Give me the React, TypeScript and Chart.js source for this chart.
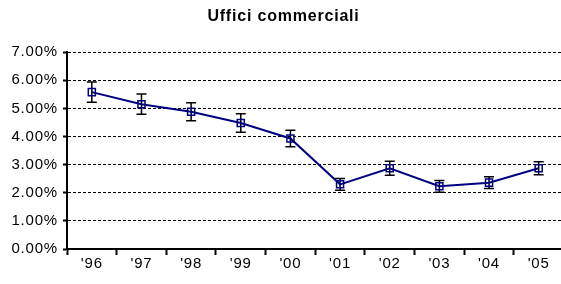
import React, { useEffect, useRef } from "react";
import { Chart, registerables } from "chart.js";

Chart.register(...registerables);

const title = "Uffici commerciali";
const years = ["'96", "'97", "'98", "'99", "'00", "'01", "'02", "'03", "'04", "'05"];
const values = [5.58, 5.15, 4.88, 4.48, 3.93, 2.3, 2.87, 2.23, 2.36, 2.87];
const errors = [0.36, 0.36, 0.32, 0.33, 0.29, 0.21, 0.25, 0.21, 0.21, 0.23];
const yMin = 0;
const yMax = 7;
const yStep = 1;

const FONT = "'Liberation Sans', Arial, sans-serif";
const SPACING = "0.8px";

const spacingPlugin = {
  id: "letterSpacing",
  beforeUpdate(chart: any) {
    chart.ctx.letterSpacing = SPACING;
  },
  beforeDraw(chart: any) {
    chart.ctx.letterSpacing = SPACING;
  },
};

const errorBarPlugin = {
  id: "errorBars",
  beforeDatasetsDraw(chart: any) {
    const { ctx, scales } = chart;
    const x = scales.x;
    const y = scales.y;
    ctx.save();
    ctx.strokeStyle = "#000";
    ctx.lineWidth = 1.5;
    values.forEach((v, i) => {
      const px = x.getPixelForValue(i);
      const top = y.getPixelForValue(v + errors[i]);
      const bot = y.getPixelForValue(v - errors[i]);
      ctx.beginPath();
      ctx.moveTo(px, top);
      ctx.lineTo(px, bot);
      ctx.moveTo(px - 5, top);
      ctx.lineTo(px + 5, top);
      ctx.moveTo(px - 5, bot);
      ctx.lineTo(px + 5, bot);
      ctx.stroke();
    });
    ctx.restore();
  },
};

export default function App() {
  const ref = useRef<HTMLCanvasElement>(null);
  useEffect(() => {
    if (!ref.current) return;
    const chart = new Chart(ref.current, {
      type: "line",
      data: {
        labels: years,
        datasets: [
          {
            data: values,
            borderColor: "#000080",
            borderWidth: 2,
            pointStyle: "rect",
            pointRadius: 5,
            pointBorderWidth: 1.5,
            pointBorderColor: "#000080",
            pointBackgroundColor: "rgba(0,0,0,0)",
            tension: 0,
          },
        ],
      },
      options: {
        animation: false,
        responsive: false,
        layout: { padding: { left: 0, right: 3, top: 0, bottom: 11 } },
        plugins: {
          legend: { display: false },
          tooltip: { enabled: false },
          title: {
            display: true,
            text: title,
            color: "#000",
            font: { family: FONT, size: 16, weight: "bold" },
            padding: { top: 7, bottom: 26 },
          },
        },
        scales: {
          x: {
            type: "category",
            offset: true,
            grid: {
              offset: true,
              drawOnChartArea: false,
              drawTicks: true,
              tickLength: 6,
              tickWidth: 2,
              tickColor: "#000",
            },
            border: { display: true, color: "#000", width: 2 },
            ticks: {
              color: "#000",
              font: { family: FONT, size: 15 },
              padding: 0,
              maxRotation: 0,
              autoSkip: false,
            },
          },
          y: {
            min: yMin,
            max: yMax,
            afterFit(scale: any) {
              scale.width = 67;
            },
            grid: {
              color: "#000",
              lineWidth: 1,
              drawTicks: true,
              tickLength: 4,
              tickWidth: 2,
              tickColor: "#000",
            },
            border: { display: true, color: "#000", width: 2, dash: [3, 2] },
            ticks: {
              stepSize: yStep,
              color: "#000",
              font: { family: FONT, size: 15 },
              padding: 5,
              callback: (v: any) => Number(v).toFixed(2) + "%",
            },
          },
        },
      },
      plugins: [spacingPlugin, errorBarPlugin],
    });
    return () => chart.destroy();
  }, []);
  return (
    <div
      style={{
        position: "fixed",
        left: 0,
        top: 0,
        width: 561,
        height: 284,
        overflow: "hidden",
        background: "#fff",
      }}
    >
      <canvas ref={ref} width={570} height={284} style={{ display: "block" }} />
    </div>
  );
}
